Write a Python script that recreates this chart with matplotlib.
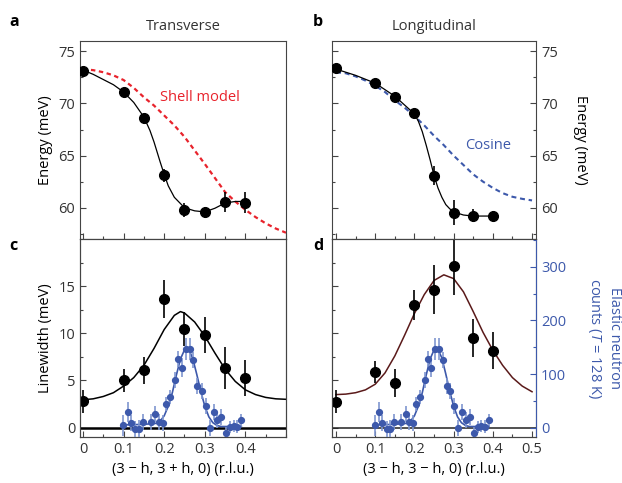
import numpy as np
import matplotlib.pyplot as plt

plt.rcParams['font.family'] = ['Open Sans', 'DejaVu Sans']
plt.rcParams['mathtext.fontset'] = 'custom'
plt.rcParams['mathtext.rm'] = 'Open Sans'
plt.rcParams['mathtext.it'] = 'Open Sans:italic'

# ---- data ----
h_pts = [0, 0.1, 0.15, 0.2, 0.25, 0.3, 0.35, 0.4]
h_ticks = [0, 0.1, 0.2, 0.3, 0.4, 0.5]
h_ticklabels = ['0', '0.1', '0.2', '0.3', '0.4', '0.5']

# a: transverse dispersion
trans_E = [73.15, 71.14, 68.65, 63.1, 59.8, 59.55, 60.55, 60.5]
trans_E_err = [0.3, 0.3, 0.3, 0.6, 0.7, 0.5, 1.0, 1.0]
trans_fit_h = [0, 0.025, 0.05, 0.075, 0.1, 0.125, 0.15, 0.165, 0.175, 0.19, 0.2, 0.21,
               0.225, 0.25, 0.275, 0.3, 0.325, 0.35, 0.375, 0.4]
trans_fit_E = [73.2, 72.8, 72.3, 71.8, 71.1, 70.1, 68.7, 67.4, 66.3, 64.4, 63.2, 62.1,
               61.0, 60.0, 59.7, 59.6, 59.95, 60.45, 60.6, 60.6]
shell_h = [0, 0.025, 0.05, 0.075, 0.1, 0.125, 0.15, 0.175, 0.2, 0.225, 0.25, 0.275,
           0.3, 0.325, 0.35, 0.375, 0.4, 0.425, 0.45, 0.475, 0.5]
shell_E = [73.3, 73.2, 73.0, 72.7, 72.25, 71.5, 70.6, 69.8, 68.85, 67.9, 66.8, 65.5,
           64.2, 62.85, 61.5, 60.6, 59.8, 59.1, 58.5, 58.0, 57.6]

# b: longitudinal dispersion
long_E = [73.4, 72.0, 70.66, 69.06, 63.06, 59.5, 59.23, 59.23]
long_E_err = [0.3, 0.3, 0.3, 0.4, 0.9, 1.2, 0.6, 0.5]
long_fit_h = [0, 0.05, 0.1, 0.15, 0.2, 0.21, 0.22, 0.23, 0.24, 0.25, 0.26, 0.27,
              0.28, 0.29, 0.3, 0.325, 0.35, 0.4]
long_fit_E = [73.3, 72.7, 71.95, 70.7, 69.0, 68.3, 67.3, 66.0, 64.6, 63.1, 61.9, 61.0,
              60.3, 59.9, 59.6, 59.3, 59.2, 59.2]
cos_h = [0, 0.025, 0.05, 0.075, 0.1, 0.125, 0.15, 0.175, 0.2, 0.225, 0.25, 0.275,
         0.3, 0.325, 0.35, 0.375, 0.4, 0.425, 0.45, 0.475, 0.5]
cos_E = [73.0, 72.9, 72.6, 72.2, 71.7, 71.1, 70.3, 69.6, 68.8, 67.9, 66.9, 66.0,
         65.0, 64.1, 63.2, 62.5, 61.9, 61.4, 61.05, 60.85, 60.7]

# c: transverse linewidth
trans_w = [2.78, 5.0, 6.06, 13.6, 10.5, 9.8, 6.3, 5.25]
trans_w_err = [1.2, 1.2, 1.4, 2.0, 1.8, 1.9, 2.2, 1.9]
w_fit_h = [0, 0.025, 0.05, 0.075, 0.1, 0.125, 0.15, 0.175, 0.2, 0.225, 0.24, 0.25,
           0.275, 0.3, 0.325, 0.35, 0.375, 0.4, 0.425, 0.45, 0.475, 0.5]
trans_w_fit = [2.95, 3.05, 3.3, 3.7, 4.4, 5.3, 6.6, 8.4, 10.4, 11.9, 12.3, 12.15,
               11.2, 9.7, 7.9, 6.2, 4.9, 4.0, 3.5, 3.2, 3.05, 3.0]

# d: longitudinal linewidth
long_w = [2.75, 5.9, 4.7, 12.96, 14.6, 17.1, 9.47, 8.17]
long_w_err = [1.2, 1.2, 1.5, 1.6, 2.6, 3.0, 2.0, 2.0]
lw_fit_h = [0, 0.025, 0.05, 0.075, 0.1, 0.125, 0.15, 0.175, 0.2, 0.225, 0.25, 0.275,
            0.3, 0.325, 0.35, 0.375, 0.4, 0.425, 0.45, 0.475, 0.5]
long_w_fit = [3.5, 3.55, 3.7, 4.0, 4.6, 5.8, 7.6, 9.8, 12.1, 14.1, 15.6, 16.2,
              15.8, 14.4, 12.3, 10.1, 8.2, 6.6, 5.3, 4.4, 3.8]

# elastic neutron counts (T = 128 K)
el_h = [0.099, 0.110, 0.118, 0.129, 0.137, 0.149, 0.167, 0.178, 0.187, 0.197,
        0.205, 0.215, 0.226, 0.235, 0.243, 0.253, 0.263, 0.272, 0.282, 0.292,
        0.302, 0.312, 0.322, 0.331, 0.341, 0.351, 0.361, 0.371, 0.380, 0.390]
el_counts = [4, 29, 9, -3, -3, 11, 10, 25, 11, 9,
             44, 57, 88, 128, 112, 147, 147, 126, 78, 68,
             40, 0, 29, 14, 19, -10, 1, 3, 2, 14]
el_err = [20, 18, 15, 15, 18, 15, 15, 15, 15, 15,
          13, 13, 15, 15, 17, 20, 20, 15, 15, 15,
          15, 15, 15, 15, 15, 12, 12, 12, 12, 12]
el_fit_h = [0.1, 0.15, 0.18, 0.19, 0.2, 0.21, 0.22, 0.23, 0.24, 0.25, 0.255, 0.26,
            0.27, 0.28, 0.29, 0.3, 0.31, 0.32, 0.33, 0.34, 0.39]
el_fit = [5, 6, 8, 12, 22, 40, 65, 98, 128, 145, 148, 146,
          130, 100, 68, 40, 20, 9, 4, 2, 2]

# ---- styling ----
txt = '#333333'
red = '#e8232c'
blue = '#3d59ab'
blue_light = '#7f96d0'
plt.rcParams['text.color'] = txt
plt.rcParams['axes.edgecolor'] = '#444444'
plt.rcParams['xtick.color'] = '#444444'
plt.rcParams['ytick.color'] = '#444444'
plt.rcParams['xtick.labelcolor'] = txt
plt.rcParams['ytick.labelcolor'] = txt
fs = 10.5

fig = plt.figure(figsize=(6.22, 4.83), dpi=100)
ax_a = fig.add_axes([0.1286, 0.5052, 0.3312, 0.41])
ax_b = fig.add_axes([0.5338, 0.5052, 0.328, 0.41])
ax_c = fig.add_axes([0.1286, 0.0952, 0.3312, 0.41])
ax_d = fig.add_axes([0.5338, 0.0952, 0.328, 0.41])

xl_left = (-0.0074, 0.498)
xl_right = (-0.0102, 0.5102)
xt = np.arange(0, 0.51, 0.05)


def style(ax, xlim, ylim, yticks, yminor):
    ax.set_xlim(*xlim)
    ax.set_ylim(*ylim)
    ax.set_xticks(xt, minor=True)
    ax.set_xticks(h_ticks)
    ax.set_yticks(yticks)
    ax.set_yticks(yminor, minor=True)
    ax.tick_params(which='both', direction='in', labelsize=fs, width=0.8)
    ax.tick_params(which='major', length=4)
    ax.tick_params(which='minor', length=2.5)
    for s in ax.spines.values():
        s.set_linewidth(0.8)


dot = dict(fmt='o', color='black', ms=7, elinewidth=1.2, capsize=0, zorder=5)
blue_dot = dict(fmt='o', color=blue, ms=4.2, ecolor=blue_light, elinewidth=1.2,
                capsize=0, zorder=4)

# a
style(ax_a, xl_left, (57, 76), [60, 65, 70, 75], np.arange(57.5, 76, 2.5))
ax_a.plot(shell_h, shell_E, color=red, lw=1.6, ls=(0, (2, 1.6)))
ax_a.plot(trans_fit_h, trans_fit_E, color='black', lw=0.9)
ax_a.errorbar(h_pts, trans_E, yerr=trans_E_err, **dot)
ax_a.set_xticklabels([])
ax_a.set_ylabel('Energy (meV)', fontsize=fs)
ax_a.text(0.19, 70.6, 'Shell model', color=red, fontsize=fs, va='center')
ax_a.set_title('Transverse', fontsize=fs, pad=8, color=txt)

# b
style(ax_b, xl_right, (57, 76), [60, 65, 70, 75], np.arange(57.5, 76, 2.5))
ax_b.plot(cos_h, cos_E, color=blue, lw=1.5, ls=(0, (2.4, 1.8)))
ax_b.plot(long_fit_h, long_fit_E, color='black', lw=0.9)
ax_b.errorbar(h_pts, long_E, yerr=long_E_err, **dot)
ax_b.set_xticklabels([])
ax_b.yaxis.tick_right()
ax_b.tick_params(axis='y', which='both', left=True, right=True)
ax_b.yaxis.set_label_position('right')
ax_b.set_ylabel('Energy (meV)', fontsize=fs, rotation=-90, labelpad=22)
ax_b.text(0.33, 66.0, 'Cosine', color=blue, fontsize=fs, va='center')
ax_b.set_title('Longitudinal', fontsize=fs, pad=8, color=txt)

# c
style(ax_c, xl_left, (-1, 20), [0, 5, 10, 15], np.arange(0, 20, 2.5))
ax_c.axhline(0, color='black', lw=1.8, zorder=3)
ax_c.plot(w_fit_h, trans_w_fit, color='black', lw=1.1)
ax_c.errorbar(h_pts, trans_w, yerr=trans_w_err, **dot)
ax_c.set_xticks(h_ticks[:-1])
ax_c.set_xticklabels(h_ticklabels[:-1])
ax_c.set_ylabel('Linewidth (meV)', fontsize=fs)
ax_c.set_xlabel('(3 \u2212 h, 3 + h, 0) (r.l.u.)', fontsize=fs, labelpad=4)
cc = ax_c.twinx()
cc.set_ylim(-17.6, 352)
cc.set_yticks([])
cc.plot(el_fit_h, el_fit, color=blue, lw=1.2, zorder=3)
cc.errorbar(el_h, el_counts, yerr=el_err, **blue_dot)
for s in cc.spines.values():
    s.set_linewidth(0.8)

# d
style(ax_d, xl_right, (-1, 20), [0, 5, 10, 15], np.arange(0, 20, 2.5))
ax_d.axhline(0, color='#222222', lw=1.1, zorder=3)
ax_d.plot(lw_fit_h, long_w_fit, color='#5a1a1a', lw=1.1)
ax_d.errorbar(h_pts, long_w, yerr=long_w_err, **dot)
ax_d.set_yticklabels([])
ax_d.set_xticklabels(h_ticklabels)
ax_d.set_xlabel('(3 \u2212 h, 3 \u2212 h, 0) (r.l.u.)', fontsize=fs, labelpad=4)
dd = ax_d.twinx()
dd.set_ylim(-17.6, 352)
dd.set_yticks([0, 100, 200, 300])
dd.set_yticks(np.arange(0, 352, 50), minor=True)
dd.tick_params(which='both', direction='in', colors=blue, labelcolor=blue,
               labelsize=fs, width=0.8)
dd.tick_params(which='major', length=4)
dd.tick_params(which='minor', length=2.5)
dd.spines['right'].set_color(blue)
dd.spines['right'].set_linewidth(0.8)
dd.plot(el_fit_h, el_fit, color=blue, lw=1.2, zorder=3)
dd.errorbar(el_h, el_counts, yerr=el_err, **blue_dot)
dd.set_ylabel('Elastic neutron\ncounts ($\\it{T}$ = 128 K)', fontsize=fs,
              color=blue, rotation=-90, labelpad=40, linespacing=1.3)

# panel letters
for x, y, s in [(0.015, 0.955, 'a'), (0.503, 0.955, 'b'),
                (0.015, 0.49, 'c'), (0.503, 0.49, 'd')]:
    fig.text(x, y, s, fontsize=11.5, fontweight='bold', color='black', va='center')

fig.savefig('out.png', dpi=100)
